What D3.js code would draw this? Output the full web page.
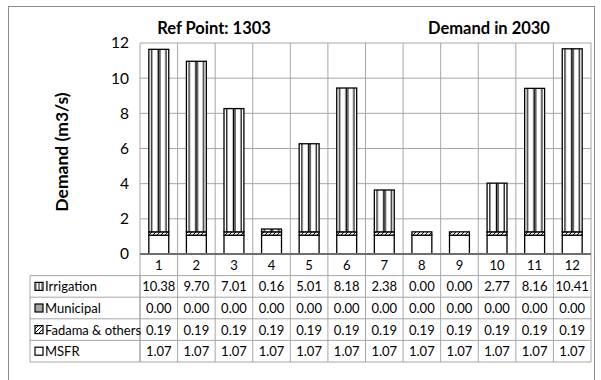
<!DOCTYPE html>
<html><head><meta charset="utf-8">
<script src="https://cdn.jsdelivr.net/npm/d3@7"></script>
<style>body{margin:0;background:#fff}svg{display:block}text{font-family:Lato,"Open Sans",sans-serif;fill:#000}</style>
</head><body><svg id="c" width="601" height="380"></svg>
<script>
const categories = ["1","2","3","4","5","6","7","8","9","10","11","12"];
const seriesNames = ["Irrigation","Municipal","Fadama & others","MSFR"];
const irrigation = [10.38,9.70,7.01,0.16,5.01,8.18,2.38,0.00,0.00,2.77,8.16,10.41];
const municipal  = [0,0,0,0,0,0,0,0,0,0,0,0];
const fadama     = [0.19,0.19,0.19,0.19,0.19,0.19,0.19,0.19,0.19,0.19,0.19,0.19];
const msfr       = [1.07,1.07,1.07,1.07,1.07,1.07,1.07,1.07,1.07,1.07,1.07,1.07];
const yTicks = [0,2,4,6,8,10,12];

const svg = d3.select("#c");
const L=140, R=591, T=43, B=254;
const rowH = 21.6;
const legL = 30;

const defs = svg.append("defs");
const pi = defs.append("pattern").attr("id","pIrr").attr("patternUnits","objectBoundingBox")
  .attr("patternContentUnits","objectBoundingBox").attr("width",1).attr("height",1);
pi.append("rect").attr("width",1).attr("height",1).attr("fill","#fff");
[0.14,0.47,0.55,0.86].forEach(f=>pi.append("rect").attr("x",f-0.03).attr("y",0).attr("width",0.06).attr("height",1).attr("fill","#000"));
const pf = defs.append("pattern").attr("id","pFad").attr("patternUnits","userSpaceOnUse").attr("width",4).attr("height",4);
pf.append("rect").attr("width",4).attr("height",4).attr("fill","#fff");
pf.append("path").attr("d","M0,4 L4,0 M-1,1 L1,-1 M3,5 L5,3").attr("stroke","#000").attr("stroke-width",1);
const fills = {"Irrigation":"url(#pIrr)","Municipal":"#a6a6a6","Fadama & others":"url(#pFad)","MSFR":"#fff"};

// outer border
svg.append("rect").attr("x",8.5).attr("y",6.5).attr("width",586).attr("height",390).attr("fill","none").attr("stroke","#8c8c8c").attr("stroke-width",1);

const x = d3.scaleBand().domain(categories).range([L,R]).paddingInner(0).paddingOuter(0);
const y = d3.scaleLinear().domain([0,12]).range([B,T]);

// grid
const g = svg.append("g");
yTicks.forEach(t=>g.append("line").attr("x1",L).attr("x2",R).attr("y1",y(t)).attr("y2",y(t)).attr("stroke","#a6a6a6"));
categories.forEach(c=>g.append("line").attr("x1",x(c)).attr("x2",x(c)).attr("y1",T).attr("y2",B+rowH).attr("stroke","#a6a6a6"));
g.append("line").attr("x1",R).attr("x2",R).attr("y1",T).attr("y2",B+rowH).attr("stroke","#a6a6a6");

// y axis labels
const yAxis = d3.axisLeft(y).tickValues(yTicks).tickSize(0).tickPadding(0).tickFormat(d3.format("d"));
const ya = svg.append("g").attr("transform",`translate(${L-11},0)`).call(yAxis);
ya.select(".domain").remove();
ya.selectAll("text").attr("font-size",15.5).attr("font-family","Lato,sans-serif").attr("fill","#000");

// bars
const data = categories.map((c,i)=>({cat:c,"MSFR":msfr[i],"Fadama & others":fadama[i],"Municipal":municipal[i],"Irrigation":irrigation[i]}));
const stack = d3.stack().keys(["MSFR","Fadama & others","Municipal","Irrigation"])(data);
const bw = x.bandwidth()*0.53;
stack.forEach(s=>{
  svg.append("g").selectAll("rect").data(s.filter(d=>d[1]-d[0]>0)).join("rect")
    .attr("x",d=>x(d.data.cat)+(x.bandwidth()-bw)/2).attr("width",bw)
    .attr("y",d=>y(d[1])).attr("height",d=>y(d[0])-y(d[1]))
    .attr("fill",fills[s.key]).attr("stroke","#000").attr("stroke-width",1.3);
});
// axis baseline
svg.append("line").attr("x1",L).attr("x2",R).attr("y1",B).attr("y2",B).attr("stroke","#6e6e6e").attr("stroke-width",2);

// table
const tb = svg.append("g");
const rows = [irrigation,municipal,fadama,msfr];
categories.forEach(c=>tb.append("text").attr("x",x(c)+x.bandwidth()/2).attr("y",B+rowH/2+5).attr("text-anchor","middle").attr("font-size",13).text(c));
for(let r=0;r<=4;r++){
  const yy = B+rowH*(r+1);
  tb.append("line").attr("x1",legL).attr("x2",R).attr("y1",yy).attr("y2",yy).attr("stroke","#a6a6a6");
}
const tBottom = B+rowH*5;
[legL,L].forEach(xx=>tb.append("line").attr("x1",xx).attr("x2",xx).attr("y1",B+rowH).attr("y2",tBottom).attr("stroke","#a6a6a6"));
categories.forEach(c=>tb.append("line").attr("x1",x(c)).attr("x2",x(c)).attr("y1",B+rowH).attr("y2",tBottom).attr("stroke","#a6a6a6"));
tb.append("line").attr("x1",R).attr("x2",R).attr("y1",B+rowH).attr("y2",tBottom).attr("stroke","#a6a6a6");
const fmt = d3.format(".2f");
rows.forEach((vals,r)=>{
  const cy = B+rowH*(r+1)+rowH/2;
  vals.forEach((v,i)=>tb.append("text").attr("x",x(categories[i])+x.bandwidth()/2).attr("y",cy+5).attr("text-anchor","middle").attr("font-size",13).text(fmt(v)));
  tb.append("rect").attr("x",legL+5).attr("y",cy-4).attr("width",8).attr("height",8)
    .attr("fill",fills[seriesNames[r]]).attr("stroke","#000").attr("stroke-width",1.2);
  tb.append("text").attr("x",legL+15).attr("y",cy+5).attr("font-size",13).text(seriesNames[r]);
});

// titles
svg.append("text").attr("x",214).attr("y",34).attr("text-anchor","middle").attr("font-size",16.5).attr("font-weight","bold").text("Ref Point: 1303");
svg.append("text").attr("x",489).attr("y",34).attr("text-anchor","middle").attr("font-size",16.5).attr("font-weight","bold").text("Demand in 2030");
svg.append("text").attr("transform","translate(68,152) rotate(-90)").attr("text-anchor","middle").attr("font-size",17.5).attr("font-weight","bold").text("Demand (m3/s)");
</script></body></html>
